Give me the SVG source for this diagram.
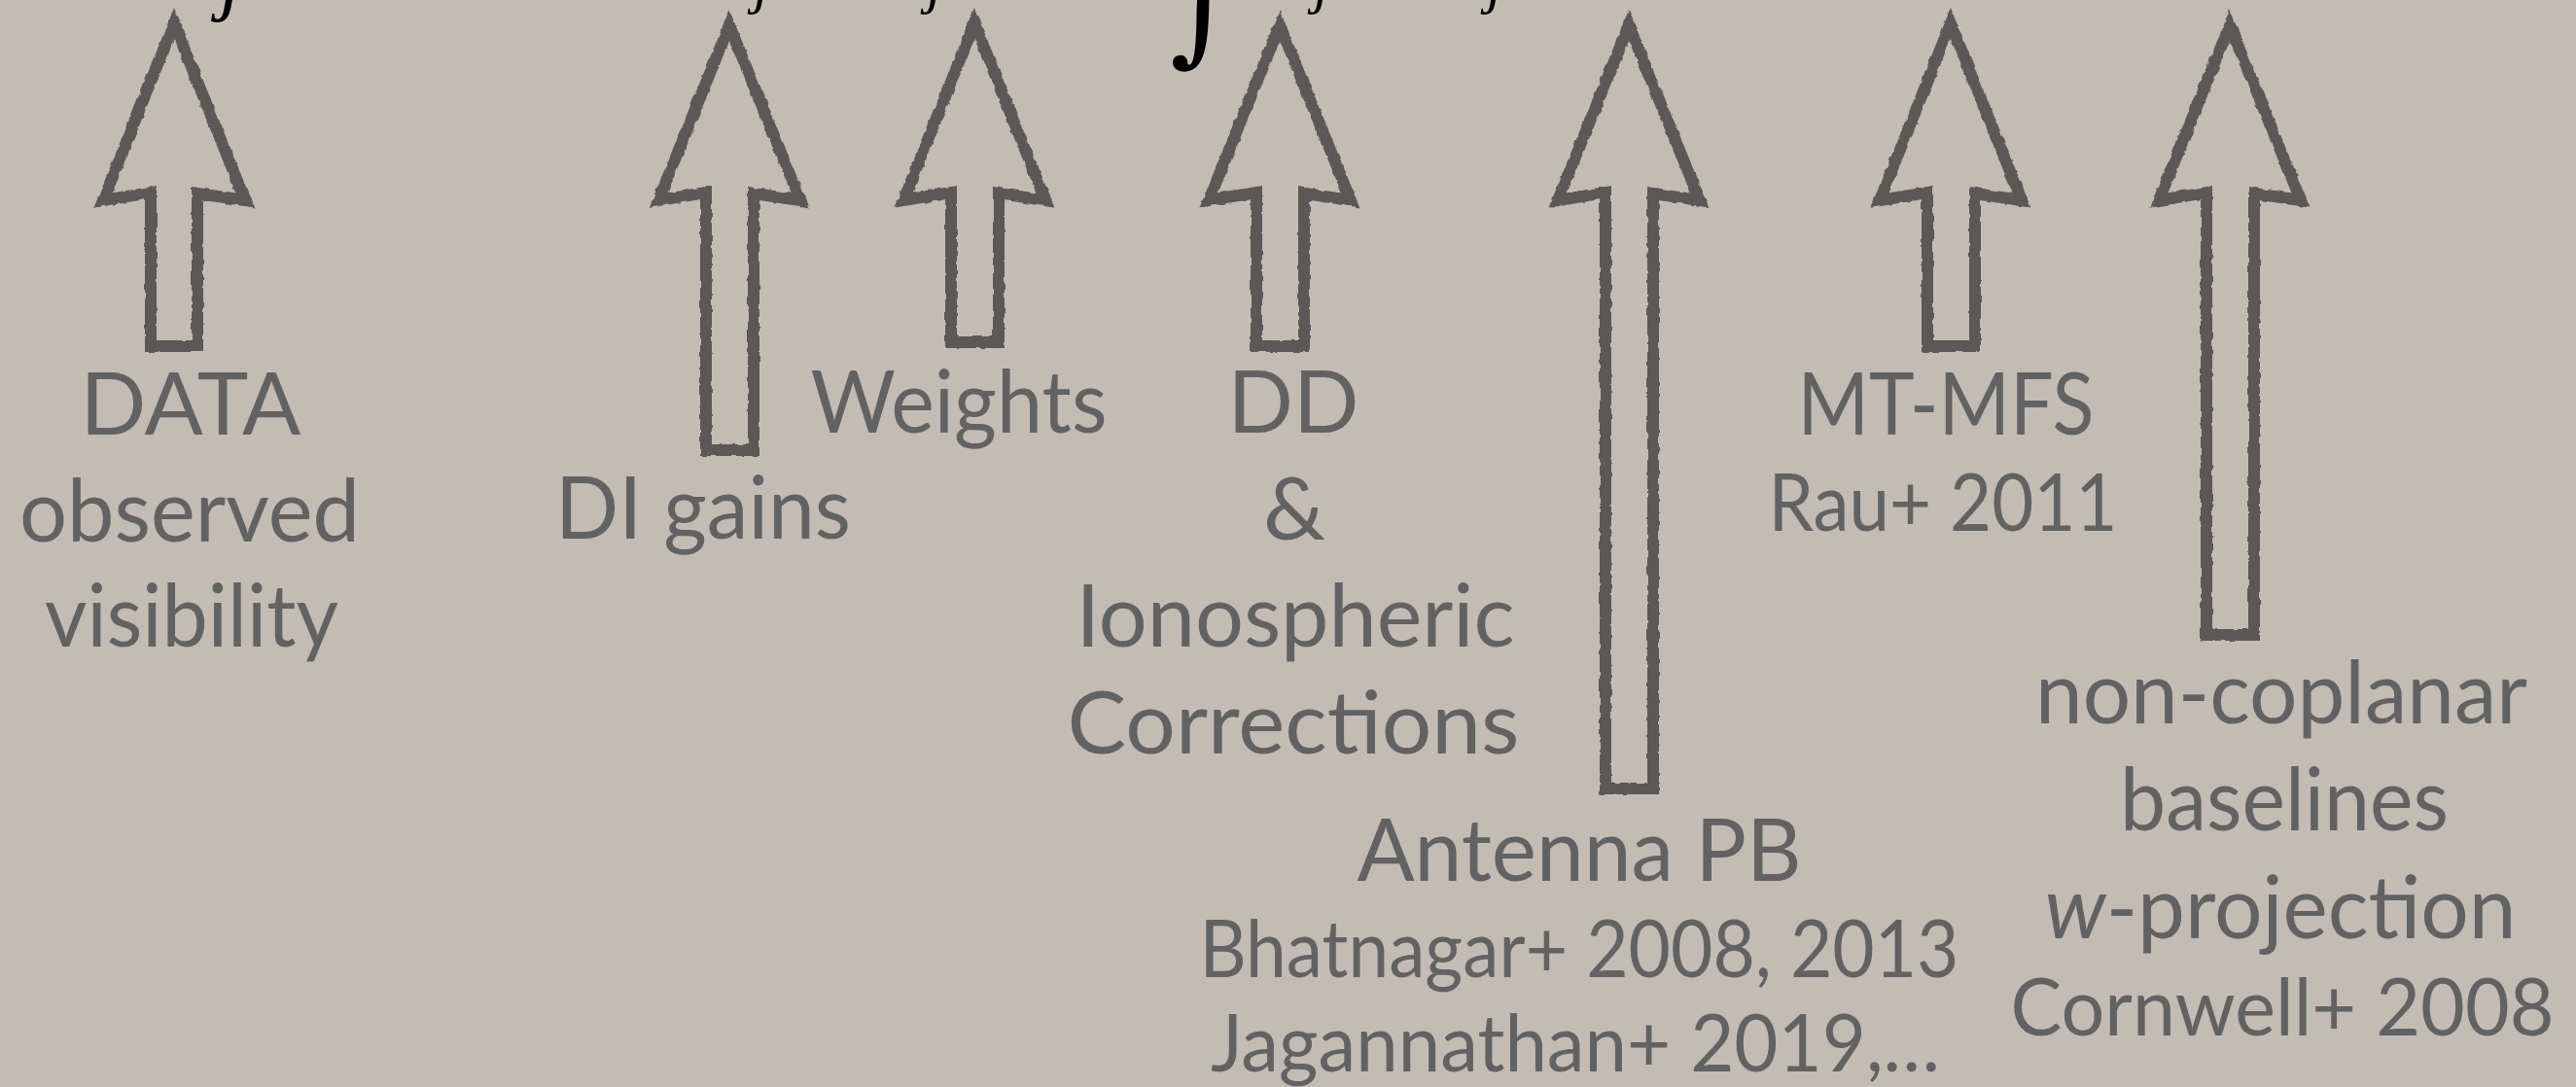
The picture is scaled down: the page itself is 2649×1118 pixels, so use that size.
<svg xmlns="http://www.w3.org/2000/svg" width="2649" height="1118" viewBox="0 0 2649 1118">
<defs>
<filter id="rough" x="-10%" y="-5%" width="120%" height="110%">
<feTurbulence type="fractalNoise" baseFrequency="0.12" numOctaves="2" seed="3" result="n"/>
<feDisplacementMap in="SourceGraphic" in2="n" scale="4" xChannelSelector="R" yChannelSelector="G"/>
</filter>
</defs>
<style>
.bg{fill:#c3bcb5}
.arrow{fill:none;stroke:#5c5954;stroke-width:12;stroke-linejoin:miter;stroke-miterlimit:6}
.big{font-family:Lato,"Liberation Sans",sans-serif;font-size:90px;fill:#626262;text-anchor:middle}
.small{font-family:Lato,"Liberation Sans",sans-serif;font-size:81px;fill:#626262;text-anchor:middle}
.math{font-family:"Liberation Serif","DejaVu Serif",serif;font-style:italic;fill:#000}
.int{font-family:"DejaVu Serif","Liberation Serif",serif;fill:#000}
</style>
<rect class="bg" x="0" y="0" width="2649" height="1118"/>

<g id="equation">
<text class="math" x="226" y="5" font-size="84">j</text>
<text class="math" x="775" y="2" font-size="60">j</text>
<text class="math" x="953" y="2" font-size="60">j</text>
<text class="int" x="1203" y="50" font-size="130">∫</text>
<text class="math" x="1351" y="2" font-size="60">j</text>
<text class="math" x="1529" y="2" font-size="60">j</text>
</g>

<g id="connectors" filter="url(#rough)">
<path class="arrow" d="M179,24 L106,206 L155,198 L155,356 L203,356 L203,199 L252,206 Z"/>
<path class="arrow" d="M750,26 L677,206 L726,198 L726,463 L775,463 L775,199 L823,206 Z"/>
<path class="arrow" d="M1002,24 L929,206 L978,198 L978,352 L1027,352 L1027,199 L1075,206 Z"/>
<path class="arrow" d="M1316,26 L1243,206 L1292,198 L1292,356 L1341,356 L1341,199 L1389,206 Z"/>
<path class="arrow" d="M1675,26 L1602,206 L1651,198 L1651,811 L1700,811 L1700,199 L1748,206 Z"/>
<path class="arrow" d="M2006,24 L1933,206 L1982,198 L1982,356 L2031,356 L2031,199 L2079,206 Z"/>
<path class="arrow" d="M2293,26 L2220,206 L2269,198 L2269,653 L2318,653 L2318,199 L2366,206 Z"/>
</g>

<g id="node-data">
<text class="big" x="196" y="447" textLength="227" lengthAdjust="spacingAndGlyphs">DATA</text>
<text class="big" x="195" y="557" textLength="350" lengthAdjust="spacingAndGlyphs">observed</text>
<text class="big" x="197" y="665" textLength="302" lengthAdjust="spacingAndGlyphs">visibility</text>
</g>
<g id="node-di-gains">
<text class="big" x="723" y="554" textLength="304" lengthAdjust="spacingAndGlyphs">DI gains</text>
</g>
<g id="node-weights">
<text class="big" x="986" y="445" textLength="305" lengthAdjust="spacingAndGlyphs">Weights</text>
</g>
<g id="node-dd">
<text class="big" x="1330" y="445" textLength="135" lengthAdjust="spacingAndGlyphs">DD</text>
<text class="big" x="1331" y="555">&amp;</text>
<text class="big" x="1332" y="665" textLength="451" lengthAdjust="spacingAndGlyphs">Ionospheric</text>
<text class="big" x="1330" y="775" textLength="465" lengthAdjust="spacingAndGlyphs">Corrections</text>
</g>
<g id="node-antenna-pb">
<text class="big" x="1624" y="906" textLength="457" lengthAdjust="spacingAndGlyphs">Antenna PB</text>
<text class="small" x="1624" y="1005" textLength="781" lengthAdjust="spacingAndGlyphs">Bhatnagar+ 2008, 2013</text>
<text class="small" x="1620" y="1102" textLength="750" lengthAdjust="spacingAndGlyphs">Jagannathan+ 2019,…</text>
</g>
<g id="node-mt-mfs">
<text class="big" x="2001" y="447" textLength="305" lengthAdjust="spacingAndGlyphs">MT-MFS</text>
<text class="small" x="1998" y="546" textLength="359" lengthAdjust="spacingAndGlyphs">Rau+ 2011</text>
</g>
<g id="node-non-coplanar">
<text class="big" x="2346" y="744" textLength="506" lengthAdjust="spacingAndGlyphs">non-coplanar</text>
<text class="big" x="2349" y="854" textLength="338" lengthAdjust="spacingAndGlyphs">baselines</text>
<text class="big" x="2345" y="965" textLength="485" lengthAdjust="spacingAndGlyphs"><tspan font-style="italic">w</tspan>-projection</text>
<text class="small" x="2347" y="1065" textLength="559" lengthAdjust="spacingAndGlyphs">Cornwell+ 2008</text>
</g>
</svg>
